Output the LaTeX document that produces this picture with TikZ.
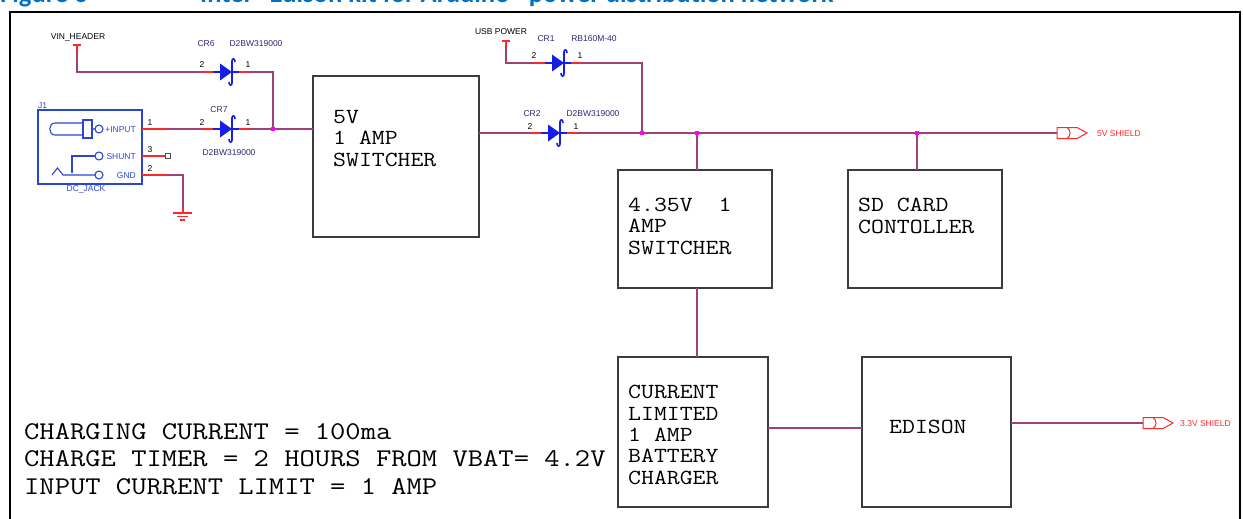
\documentclass[tikz,border=0pt]{standalone}
\usepackage{fontspec}
\newfontfamily\monofont[FakeStretch=1.165]{Latin Modern Mono}
\newfontfamily\labelfont{Liberation Sans}
\newfontfamily\capfont{Carlito}
\usetikzlibrary{positioning}
\usetikzlibrary{arrows.meta}

\definecolor{wirecol}{RGB}{160,64,120}
\definecolor{pincol}{RGB}{255,40,40}
\definecolor{partcol}{RGB}{20,30,230}
\definecolor{refcol}{RGB}{40,40,120}
\definecolor{jackcol}{RGB}{40,70,210}
\definecolor{boxcol}{RGB}{60,60,60}
\definecolor{dotcol}{RGB}{255,0,255}
\definecolor{intelblue}{RGB}{0,113,197}

\begin{document}
\begin{tikzpicture}[
    x=1pt, y=-1pt,
    % Define the style for wires and parts
    wire/.style={draw=wirecol, line width=1.4pt},
    pin/.style={draw=pincol, line width=1.4pt},
    part/.style={draw=partcol, line width=1.6pt},
    jack/.style={draw=jackcol, line width=1.1pt},
    dot/.style={fill=dotcol, inner sep=0pt, minimum size=3.5pt},
    % Define the style for the texts
    lbl/.style={font=\labelfont\fontsize{8.5}{10}\selectfont, inner sep=0pt, anchor=base},
    pinno/.style={lbl, text=black},
    refdes/.style={lbl, text=refcol},
    block/.style={draw=boxcol, line width=1.5pt, anchor=north west, inner sep=0pt, outer sep=0pt},
    blocktext/.style={font=\monofont\fontsize{21.5}{21.3}\selectfont, align=left, inner sep=0pt, anchor=base west},
    captext/.style={font=\capfont\bfseries\fontsize{26.6}{26.6}\selectfont, text=intelblue, anchor=base west, inner sep=0pt},
    % schottky diode, anode left
    schottky/.pic={
        \draw[pin] (-24,0) coordinate (-a) -- (-13,0);
        \draw[pin] (13,0) -- (24,0) coordinate (-k);
        \draw[part] (-13,0) -- (13,0);
        \fill[partcol] (-6,-8.5) -- (6,0) -- (-6,8.5) -- cycle;
        \draw[part] (9,-10) .. controls (9,-14) and (6,-14) .. (6,-11) -- (6,11)
            .. controls (6,14) and (3,14) .. (3,10);
        \node[pinno] (-p2) at (-24,-4) {2};
        \node[pinno] (-p1) at (22,-4) {1};
    },
    % off-page port
    port/.pic={
        \coordinate (-in) at (0,0);
        \draw[pincol, line width=1pt] (0,-5.5) -- (20,-5.5) -- (30,0) -- (20,5.5) -- (0,5.5) -- cycle;
        \draw[pincol, line width=1pt] (10,-5.5) .. controls (14,-3) and (14,3) .. (10,5.5);
    }
]
    \useasboundingbox (0,0) rectangle (1243,519);

    % caption and frame
    \node[captext] (figno) at (0,3) {Figure 6};
    \node[captext] (figtitle) at (200,3) {Intel® Edison kit for Arduino* power distribution network};
    \draw[line width=2.2pt] (10,12) rectangle (1240,530);

    % DC jack
    \node[block, draw=jackcol, line width=1.1pt, minimum width=104pt, minimum height=74pt] (j1) at (38,110) {};
    \node[lbl, anchor=base west, text=jackcol] (j1-ref) at (38,108) {J1};
    \node[lbl, text=jackcol] (j1-name) at (86,191) {DC\_JACK};
    \draw[jack] (83,123) -- (55,123) .. controls (48,123) and (48,135) .. (55,135) -- (83,135);
    \draw[jack] (83,120) rectangle (92,138);
    \draw[jack] (92,129) -- (95,129) (99,129) circle[radius=4];
    \draw[jack] (99,156) circle[radius=4];
    \draw[jack, -{Latex[length=3pt,width=3pt]}] (95,156) -| (72,174);
    \draw[jack] (99,175) circle[radius=4];
    \draw[jack] (95,175) -- (63,175) -- (57.5,168) -- (52,175);
    \node[lbl, anchor=base east, text=jackcol] (j1-in) at (136,132) {+INPUT};
    \node[lbl, anchor=base east, text=jackcol] (j1-sh) at (136,159) {SHUNT};
    \node[lbl, anchor=base east, text=jackcol] (j1-gnd) at (136,178) {GND};

    % jack pins
    \coordinate (j1-1) at (142,129);
    \coordinate (j1-3) at (142,156);
    \coordinate (j1-2) at (142,175);
    \node[pinno] (j1-p1) at (150,125) {1};
    \node[pinno] (j1-p3) at (150,152) {3};
    \node[pinno] (j1-p2) at (150,171) {2};
    \draw[pin] (j1-1) -- ++(26,0) coordinate (j1-1e);
    \draw[pin] (j1-3) -- ++(23,0) coordinate (j1-3e);
    \node[draw=black!70, line width=0.8pt, minimum size=5pt, inner sep=0pt, anchor=west] (nc) at (j1-3e) {};
    \draw[pin] (j1-2) -- ++(26,0) coordinate (j1-2e);
    \draw[wire] (j1-2e) -| (183,208) coordinate (gnd-top);
    \draw[pin] (gnd-top) -- ++(0,5) coordinate (gnd);
    \draw[pincol, line width=1.1pt] (173,213) -- (192,213) (177,216.5) -- (188,216.5) (180,220) -- (185,220);

    % diodes
    \pic (cr6) at (226,72) {schottky};
    \pic (cr7) at (226,129) {schottky};
    \pic (cr2) at (554,133) {schottky};
    \pic (cr1) at (558,63) {schottky};
    \node[refdes] (cr6-ref) at (206,47) {CR6};
    \node[refdes] (cr6-val) at (256,47) {D2BW319000};
    \node[refdes] (cr7-ref) at (219,112) {CR7};
    \node[refdes] (cr7-val) at (229,155) {D2BW319000};
    \node[refdes] (cr2-ref) at (532,117) {CR2};
    \node[refdes] (cr2-val) at (593,117) {D2BW319000};
    \node[refdes] (cr1-ref) at (546,42) {CR1};
    \node[refdes] (cr1-val) at (594,42) {RB160M-40};

    % supply inputs
    \node[lbl] (vin-lbl) at (78,40) {VIN\_HEADER};
    \coordinate (vin) at (77,53);
    \draw[pin] (73,45) -- (81,45) (77,45) -- (vin);
    \node[lbl] (usb-lbl) at (501,35) {USB POWER};
    \coordinate (usb) at (506,47);
    \draw[pin] (502,41) -- (510,41) (506,41) -- (usb);

    % blocks
    \node[block, minimum width=166pt, minimum height=161pt] (sw5) at (313,76) {};
    \node[block, minimum width=154pt, minimum height=118pt] (sw435) at (618,170) {};
    \node[block, minimum width=154pt, minimum height=118pt] (sdc) at (848,170) {};
    \node[block, minimum width=150pt, minimum height=150pt] (chg) at (618,357) {};
    \node[block, minimum width=149pt, minimum height=150pt] (edison) at (862,357) {};
    % (base of a multi-line text is its last line)
    \node[blocktext] (sw5-txt) at ([shift={(20,90)}]sw5.north west) {5V\\1 AMP\\SWITCHER};
    \node[blocktext] (sw435-txt) at ([shift={(10,84)}]sw435.north west) {4.35V~~1\\AMP\\SWITCHER};
    \node[blocktext] (sdc-txt) at ([shift={(10,63)}]sdc.north west) {SD CARD\\CONTOLLER};
    \node[blocktext] (chg-txt) at ([shift={(10,127)}]chg.north west) {CURRENT\\LIMITED\\1 AMP\\BATTERY\\CHARGER};
    \node[blocktext] (edison-txt) at ([shift={(27,76)}]edison.north west) {EDISON};

    % ports
    \pic (p5) at (1057,133) {port};
    \pic (p33) at (1143,423) {port};
    \node[lbl, anchor=base west, text=pincol] (p5-lbl) at (1097,136) {5V SHIELD};
    \node[lbl, anchor=base west, text=pincol] (p33-lbl) at (1180,426) {3.3V SHIELD};

    % nets
    \coordinate (jn1) at (273,129);
    \coordinate (jn2) at (642,133);
    \coordinate (jn3) at (697,133);
    \coordinate (jn4) at (917,133);
    \draw[wire] (vin) |- (cr6-a);
    \draw[wire] (j1-1e) -- (cr7-a);
    \draw[wire] (cr6-k) -| (jn1);
    \draw[wire] (cr7-k) -- (sw5.west |- cr7-k);
    \draw[wire] (sw5.east |- cr2-a) -- (cr2-a);
    \draw[wire] (usb) |- (cr1-a);
    \draw[wire] (cr1-k) -| (jn2);
    \draw[wire] (cr2-k) -- (p5-in);
    \draw[wire] (jn3) -- (jn3 |- sw435.north);
    \draw[wire] (jn4) -- (jn4 |- sdc.north);
    \draw[wire] (jn3 |- sw435.south) -- (jn3 |- chg.north);
    \draw[wire] ([yshift=4pt]chg.east) -- ([yshift=4pt]edison.west);
    \draw[wire] (edison.east |- p33-in) -- (p33-in);
    \foreach \j in {jn1,jn2,jn3,jn4}
        \node[dot] (dot-\j) at (\j) {};

    % notes
    \node[blocktext, font=\monofont\fontsize{25.5}{27.5}\selectfont] (notes) at (24,494)
        {CHARGING CURRENT = 100ma\\CHARGE TIMER = 2 HOURS FROM VBAT= 4.2V\\INPUT CURRENT LIMIT = 1 AMP};

\end{tikzpicture}
\end{document}
